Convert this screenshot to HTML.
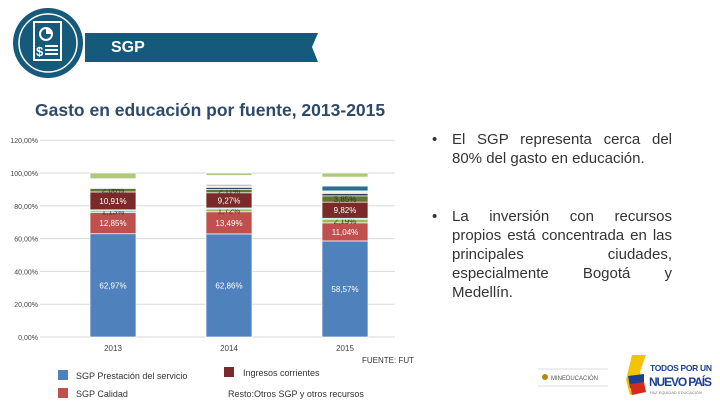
<!DOCTYPE html>
<html><head><meta charset="utf-8"><style>
body{margin:0;width:720px;height:405px;background:#fff;overflow:hidden;font-family:"Liberation Sans",sans-serif;position:relative}
.abs{position:absolute}
.bul{position:absolute;left:452px;width:220px;font-size:15px;color:#333;text-align:justify;line-height:19px}
.bul span{position:absolute;left:-20px}
</style></head><body>
<svg class="abs" style="left:0;top:0" width="720" height="405">
<g>
<path d="M85 33 H318 L312 47 L318 62 H85 Z" fill="#155a7a"/>
<circle cx="48" cy="43" r="35" fill="#155a7a"/>
<circle cx="48" cy="43" r="29" fill="none" stroke="#fff" stroke-width="1.5"/>
<rect x="34" y="22" width="27" height="38" fill="none" stroke="#fff" stroke-width="2"/>
<circle cx="46" cy="34" r="6" fill="none" stroke="#fff" stroke-width="2"/>
<path d="M46 34 L46 28 A6 6 0 0 1 52 34Z" fill="#fff"/>
<text x="36" y="56" fill="#fff" font-size="13" font-weight="bold">$</text>
<g stroke="#fff" stroke-width="2"><line x1="45" y1="46" x2="58" y2="46"/><line x1="45" y1="50" x2="58" y2="50"/><line x1="45" y1="54" x2="58" y2="54"/></g>
<text x="111" y="52" fill="#fff" font-size="16" font-weight="bold">SGP</text>
</g>
<text x="35" y="116" fill="#2e4a6b" font-size="17.5" font-weight="bold">Gasto en educación por fuente, 2013-2015</text>
<g id="chart"></g>
<text x="362" y="363" font-size="8" fill="#333">FUENTE: FUT</text>
<g font-size="9" fill="#333">
<rect x="58" y="370" width="10" height="10" fill="#4f81bd"/><text x="76" y="379">SGP Prestación del servicio</text>
<rect x="58" y="388" width="10" height="10" fill="#c0504d"/><text x="76" y="397">SGP Calidad</text>
<rect x="224" y="367" width="10" height="10" fill="#7b2a2a"/><text x="243" y="376">Ingresos corrientes</text>
<text x="228" y="397">Resto:Otros SGP y otros recursos</text>
</g>
<g>
<line x1="538" y1="369" x2="608" y2="369" stroke="#ddd"/><line x1="538" y1="386" x2="608" y2="386" stroke="#ddd"/>
<circle cx="545" cy="377" r="3" fill="#b8860b"/>
<text x="551" y="380" font-size="6" fill="#555">MINEDUCACIÓN</text>
<path d="M632 355 L646 355 L640 372 L646 392 L630 395 L626 380 Z" fill="#f5c400"/>
<path d="M628 376 L644 374 L644 384 L630 388 Z" fill="#1b3f94"/>
<path d="M630 384 L644 382 L646 392 L632 395 Z" fill="#d52b1e"/>
<text x="650" y="371" font-size="8.5" font-weight="bold" fill="#1b3f94" textLength="62">TODOS POR UN</text>
<text x="649" y="386" font-size="12" font-weight="bold" fill="#1b3f94" textLength="63">NUEVO PAÍS</text>
<text x="650" y="394" font-size="4" fill="#777">PAZ  EQUIDAD  EDUCACIÓN</text>
</g>
</svg>
<div class="bul" style="top:130px"><span>•</span>El SGP representa cerca del 80% del gasto en educación.</div>
<div class="bul" style="top:207px"><span>•</span>La inversión con recursos propios está concentrada en las principales ciudades, especialmente Bogotá y Medellín.</div>
<script>
const years=["2013","2014","2015"];
const prestacion=[62.97,62.86,58.57];
const calidad=[12.85,13.49,11.04];
const lightGreen=[1.13,1.72,2.19];
const thinBlue=[0.6,0.6,0.6];
const ingresos=[10.91,9.27,9.82];
const olive=[2.06,2.11,3.85];
const navy=[0.5,1.2,1.5];
const cream=[0,1.0,1.5];
const teal=[0,0.8,3.0];
const gap=[5.5,5.45,5.43];
const topGreen=[3.5,1.5,2.5];
const yTicks=[0,20,40,60,80,100,120];
const series=[
 {n:"prestacion",v:prestacion,c:"#4f81bd",lbl:true},
 {n:"calidad",v:calidad,c:"#c0504d",lbl:true},
 {n:"light-green",v:lightGreen,c:"#9bbb59",lbl:true,dark:true},
 {n:"thin-blue",v:thinBlue,c:"#4bacc6"},
 {n:"ingresos",v:ingresos,c:"#7b2a2a",lbl:true},
 {n:"olive",v:olive,c:"#5f7530",lbl:true,dark:true},
 {n:"navy",v:navy,c:"#2c3e63"},
 {n:"cream",v:cream,c:"#f5f0dc"},
 {n:"teal",v:teal,c:"#2a6f8f"},
 {n:"gap",v:gap,c:"#ffffff"},
 {n:"top-green",v:topGreen,c:"#aec97e"}];
const NS="http://www.w3.org/2000/svg";
const g=document.getElementById("chart");
const y=v=>337-v*1.64;
const x=i=>113+i*116;
function mk(t,a){const e=document.createElementNS(NS,t);for(const k in a)e.setAttribute(k,a[k]);g.appendChild(e);return e;}
yTicks.forEach(t=>{
 const l=mk("line",{x1:40,x2:395,y1:y(t),y2:y(t),stroke:"#d9d9d9"});
 
 
 const tx=mk("text",{x:38,y:y(t)+3,"font-size":7,fill:"#444","text-anchor":"end"});
 tx.textContent=t.toFixed(2).replace(".",",")+"%";
 
 
});
years.forEach((yr,i)=>{
 let cum=0;
 series.forEach(s=>{
  const v=s.v[i]; if(v<=0){return;}
  const r=mk("rect",{x:x(i)-23,width:46,y:y(cum+v),height:v*1.64,fill:s.c,stroke:"#fff","stroke-width":0.7});
  
  
  if(s.lbl){
   const t=mk("text",{x:x(i),y:y(cum+v/2)+3,"font-size":8,fill:s.dark?"#333":"#fff","text-anchor":"middle"});
   t.textContent=v.toFixed(2).replace(".",",")+"%";
   
   
  }
  cum+=v;
 });
 const t=mk("text",{x:x(i),y:351,"font-size":8,fill:"#444","text-anchor":"middle"});
 t.textContent=yr;
 
 
});
</script>
</body></html>
